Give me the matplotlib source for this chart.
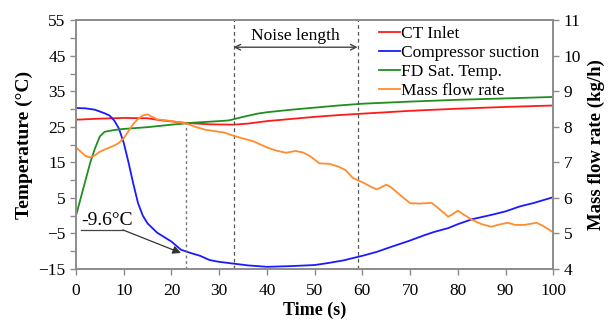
import numpy as np
import matplotlib.pyplot as plt
from matplotlib.ticker import MultipleLocator

plt.rcParams['font.family'] = ['Liberation Serif', 'DejaVu Serif']

# CT inlet temperature (degC)
t_ct = [0, 5, 10, 15, 18, 23, 28, 33, 36, 40, 45, 50, 55, 60, 70, 80, 90, 100]
ct_inlet = [27.0, 27.3, 27.5, 27.4, 26.8, 26.1, 25.7, 25.6, 25.9, 26.6, 27.2,
            27.8, 28.3, 28.7, 29.5, 30.1, 30.6, 31.0]

# compressor suction temperature (degC)
t_cs = [0, 2, 4, 6, 7, 8, 9, 10, 11, 12, 13, 14, 15, 17, 20, 22, 24, 26, 28,
        30, 33, 36, 40, 45, 50, 53, 56, 60, 63, 66, 70, 73, 75, 78, 80, 83,
        87, 90, 93, 96, 98, 100]
comp_suction = [30.3, 30.2, 29.8, 28.8, 28.2, 26.8, 24.5, 20.5, 15.0, 9.0, 3.5,
                0.0, -2.2, -4.8, -7.3, -9.6, -10.5, -11.3, -12.5, -13.0, -13.5,
                -14.0, -14.4, -14.2, -13.9, -13.3, -12.6, -11.3, -10.2, -8.8,
                -7.0, -5.5, -4.6, -3.5, -2.4, -1.0, 0.2, 1.2, 2.6, 3.6, 4.4, 5.2]

# FD saturation temperature (degC)
t_fd = [0, 1, 2, 3, 4, 5, 6, 8, 10, 15, 20, 25, 30, 32, 35, 38, 40, 45, 50,
        55, 60, 70, 80, 90, 100]
fd_sat = [0.0, 5.0, 10.0, 15.0, 19.0, 22.3, 23.6, 24.1, 24.4, 24.9, 25.6, 26.2,
          26.6, 26.8, 27.8, 28.7, 29.1, 29.8, 30.4, 31.0, 31.5, 32.1, 32.6,
          33.0, 33.4]

# refrigerant mass flow rate (kg/h)
t_mf = [0, 1, 2, 3, 4, 5, 6, 8, 9, 10, 11, 12, 13, 14, 15, 16, 17, 19, 21, 23,
        25, 27, 29, 31, 33, 35, 37, 40, 42, 44, 46, 47.5, 49, 51, 53, 55, 56.5,
        58, 60, 62, 63, 64, 65, 66, 68, 70, 72, 74.5, 76, 78, 79, 80, 81, 83,
        85, 87, 89, 90.5, 92, 94, 96.5, 98, 100]
mass_flow = [7.42, 7.30, 7.18, 7.14, 7.20, 7.30, 7.36, 7.47, 7.55, 7.68, 7.88,
             8.08, 8.22, 8.32, 8.35, 8.28, 8.21, 8.18, 8.14, 8.10, 8.00, 7.92,
             7.88, 7.84, 7.75, 7.67, 7.60, 7.42, 7.33, 7.27, 7.32, 7.28, 7.18,
             6.97, 6.96, 6.88, 6.78, 6.56, 6.44, 6.30, 6.24, 6.30, 6.37, 6.30,
             6.07, 5.85, 5.84, 5.86, 5.70, 5.47, 5.55, 5.64, 5.55, 5.38, 5.26,
             5.19, 5.26, 5.30, 5.24, 5.24, 5.30, 5.20, 5.03]

noise_start, noise_end = 33, 59
marker_t = 23
min_label = '-9.6°C'

fig = plt.figure(figsize=(6.08, 3.26), dpi=100)
ax = fig.add_axes([0.125, 0.175, 0.785, 0.763])
ax2 = ax.twinx()

l1, = ax.plot(t_ct, ct_inlet, color='#ff1a1a', lw=1.3, label='CT Inlet')
l2, = ax.plot(t_cs, comp_suction, color='#1a1aff', lw=1.3, label='Compressor suction')
l3, = ax.plot(t_fd, fd_sat, color='#1f8f1f', lw=1.3, label='FD Sat. Temp.')
l4, = ax2.plot(t_mf, mass_flow, color='#ff8c2e', lw=1.3, label='Mass flow rate')

ax.set_xlim(0, 100)
ax.set_ylim(-15, 55)
ax2.set_ylim(4, 11)
ax.xaxis.set_major_locator(MultipleLocator(10))
ax.set_yticks(np.arange(-15, 56, 10))
ax.set_yticks(np.arange(-10, 55, 10), minor=True)
ax2.set_yticks(np.arange(4, 12, 1))

for a in (ax, ax2):
    for s in a.spines.values():
        s.set_color('#8c8c8c')
        s.set_linewidth(1.2)
    a.tick_params(which='both', direction='out', length=4, width=1,
                  color='#8c8c8c', labelsize=12.5)
ax.tick_params(axis='x', pad=6)

ax.set_xlabel('Time (s)', fontsize=13, fontweight='bold', labelpad=2)
ax.set_ylabel('Temperature (°C)', fontsize=14, fontweight='bold', labelpad=4)
ax2.set_ylabel('Mass flow rate (kg/h)', fontsize=13.5, fontweight='bold', labelpad=5)

# marker lines for the noise window
ax.plot([marker_t, marker_t], [-15, 26.1], color='#777777', lw=1, ls=(0, (2, 2)))
for x in (noise_start, noise_end):
    ax.axvline(x, color='#555555', lw=0.9, ls=(0, (3, 2.5)))
ax.annotate('', xy=(noise_start, 47.4), xytext=(noise_end, 47.4),
            arrowprops=dict(arrowstyle='<->', color='#444444', lw=1,
                            shrinkA=0, shrinkB=0))
ax.text((noise_start + noise_end) / 2, 50.5, 'Noise length', ha='center',
        va='center', fontsize=12.5)

# minimum suction temperature callout
ax.text(1.0, -1.3, min_label, ha='left', va='center', fontsize=14)
ax.plot([1.0, 9.8], [-4.0, -4.0], color='#444444', lw=0.9)
ax.annotate('', xy=(22.0, -10.5), xytext=(9.8, -4.0),
            arrowprops=dict(arrowstyle='-|>', color='#333333', lw=0.9,
                            mutation_scale=12, shrinkA=0, shrinkB=0))

ax.legend(handles=[l1, l2, l3, l4], loc='upper right', frameon=False,
          fontsize=12.5, handlelength=1.2, handletextpad=0.05, labelspacing=0.16,
          borderaxespad=0.0, bbox_to_anchor=(0.985, 1.005))

fig.savefig('out.png', dpi=100)
